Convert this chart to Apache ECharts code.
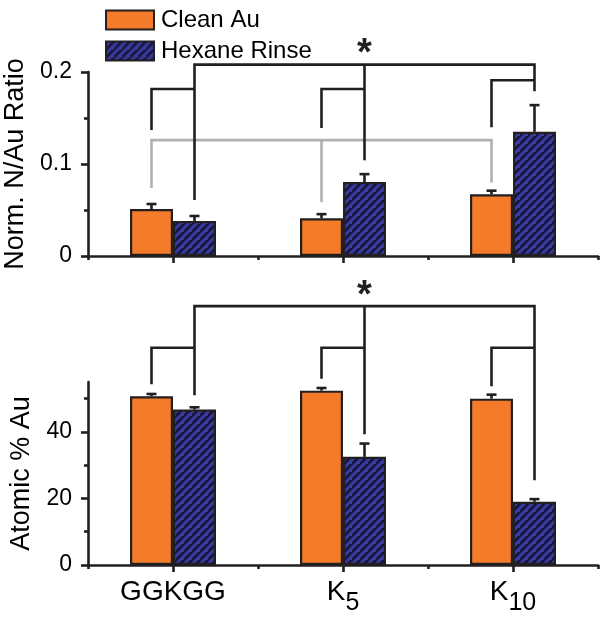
<!DOCTYPE html>
<html>
<head>
<meta charset="utf-8">
<script src="https://cdn.jsdelivr.net/npm/echarts@6/dist/echarts.min.js"></script>
<style>
  html, body { margin: 0; padding: 0; background: #fff; }
  #chart { width: 600px; height: 621px; }
</style>
</head>
<body>
<div id="chart"></div>
<script>
// ---------- data ----------
const categoryBase = ['GGKGG', 'K', 'K'];
const categorySub = ['', '5', '10'];
const categories = ['GGKGG', 'K5', 'K10'];
const seriesNames = ['Clean Au', 'Hexane Rinse'];

const ratioClean = [0.051, 0.041, 0.067];
const ratioCleanErr = [0.0055, 0.0045, 0.004];
const ratioHexane = [0.038, 0.0804, 0.135];
const ratioHexaneErr = [0.0055, 0.0086, 0.029];

const auClean = [50.7, 52.4, 50.0];
const auCleanErr = [0.7, 0.8, 1.2];
const auHexane = [46.7, 32.5, 19.0];
const auHexaneErr = [0.7, 4.0, 0.8];

const ratioTicks = [0, 0.1, 0.2];
const ratioMinorTicks = [0.05, 0.15];
const auTicks = [0, 20, 40];
const auMinorTicks = [10, 30, 50];

// significance brackets: points are [categoryIndex, bar (-1 Clean, +1 Hexane), value]
const ratioBracketsBlack = [
  [[0, 1, 0.061], [0, 1, 0.208], [2, 1, 0.208], [2, 1, 0.179]],
  [[1, 1, 0.104], [1, 1, 0.208]],
  [[0, -1, 0.137], [0, -1, 0.1815], [0, 1, 0.1815]],
  [[1, -1, 0.139], [1, -1, 0.1815], [1, 1, 0.1815]],
  [[2, -1, 0.140], [2, -1, 0.191], [2, 1, 0.191]]
];
const ratioBracketsGray = [
  [[0, -1, 0.0738], [0, -1, 0.126], [2, -1, 0.126], [2, -1, 0.080]],
  [[1, -1, 0.0586], [1, -1, 0.126]]
];
const auBrackets = [
  [[0, 1, 51], [0, 1, 77.8], [2, 1, 77.8], [2, 1, 25.5]],
  [[1, 1, 39.3], [1, 1, 77.8]],
  [[0, -1, 54.3], [0, -1, 65.3], [0, 1, 65.3]],
  [[1, -1, 56], [1, -1, 65.3], [1, 1, 65.3]],
  [[2, -1, 53.7], [2, -1, 65.3], [2, 1, 65.3]]
];
const ratioStar = [1, 1, 0.226];
const auStar = [1, 1, 82.5];

// ---------- styles ----------
const FONT = "'Liberation Sans', Arial, Helvetica, sans-serif";
const INK = '#231f20';
const ORANGE = '#f47b2a';
const BAR_W = 43;

function hatchPattern() {
  const s = 8;
  const c = document.createElement('canvas');
  c.width = s; c.height = s;
  const ctx = c.getContext('2d');
  ctx.fillStyle = '#3a3a9e';
  ctx.fillRect(0, 0, s, s);
  ctx.strokeStyle = '#16163a';
  ctx.lineWidth = 2.6;
  ctx.beginPath();
  ctx.moveTo(-2, s + 2); ctx.lineTo(s + 2, -2);
  ctx.moveTo(-2 - s, s + 2); ctx.lineTo(2, -2);
  ctx.moveTo(s - 2, 2 * s + 2); ctx.lineTo(2 * s + 2, s - 2);
  ctx.stroke();
  return { image: c, repeat: 'repeat' };
}
const HATCH = hatchPattern();

function px(api, p) {
  const c = api.coord([p[0], p[2]]);
  return [c[0] + p[1] * BAR_W / 2, c[1]];
}

function bracketSeries(xi, yi, lines, color) {
  return {
    type: 'custom', xAxisIndex: xi, yAxisIndex: yi, clip: false, z: 5,
    silent: true,
    data: lines.map(l => [l[0][0], l[0][2]]),
    renderItem: function (params, api) {
      const l = lines[params.dataIndex];
      return {
        type: 'polyline',
        shape: { points: l.map(p => px(api, p)) },
        style: { stroke: color, lineWidth: 2.6, fill: null, lineJoin: 'miter' }
      };
    }
  };
}

function errorSeries(xi, yi, vals, errs, side) {
  return {
    type: 'custom', xAxisIndex: xi, yAxisIndex: yi, clip: false, z: 6,
    silent: true,
    data: vals.map((v, i) => [i, v, errs[i]]),
    renderItem: function (params, api) {
      const i = api.value(0), v = api.value(1), e = api.value(2);
      const b = px(api, [i, side, v]);
      const t = px(api, [i, side, v + e]);
      return {
        type: 'group',
        children: [
          { type: 'line', shape: { x1: b[0], y1: b[1], x2: t[0], y2: t[1] },
            style: { stroke: INK, lineWidth: 2.6 } },
          { type: 'line', shape: { x1: t[0] - 5, y1: t[1], x2: t[0] + 5, y2: t[1] },
            style: { stroke: INK, lineWidth: 2.6 } }
        ]
      };
    }
  };
}

function starSeries(xi, yi, star) {
  return {
    type: 'custom', xAxisIndex: xi, yAxisIndex: yi, clip: false, z: 7,
    silent: true,
    data: [[star[0], star[2]]],
    renderItem: function (params, api) {
      const p = px(api, star);
      return {
        type: 'text',
        style: { text: '*', x: p[0], y: p[1] + 6, align: 'center', verticalAlign: 'middle',
                 fontSize: 38, fontWeight: 'bold', fontFamily: FONT, fill: INK }
      };
    }
  };
}

const lineStyle = { color: INK, width: 2.6 };

function catAxes(gi, showLabels) {
  return [
    {
      type: 'category', gridIndex: gi, data: categories, position: 'bottom',
      axisLine: { show: true, lineStyle: lineStyle },
      axisTick: { show: true, alignWithLabel: true, length: 7, lineStyle: lineStyle },
      axisLabel: showLabels ? {
        show: true, margin: 13, color: '#000', fontFamily: FONT, interval: 0,
        verticalAlign: 'top',
        formatter: function (v, idx) {
          return '{k|' + categoryBase[idx] + '}' + (categorySub[idx] ? '{s|' + categorySub[idx] + '}' : '');
        },
        rich: {
          k: { fontSize: 28, fontFamily: FONT, color: '#000', lineHeight: 28, verticalAlign: 'top' },
          s: { fontSize: 25, fontFamily: FONT, color: '#000', lineHeight: 38, verticalAlign: 'bottom' }
        }
      } : { show: false },
      splitLine: { show: false }
    },
    {
      type: 'category', gridIndex: gi, data: categories, position: 'bottom',
      axisLine: { show: false },
      axisTick: { show: true, alignWithLabel: false, length: 4, lineStyle: lineStyle },
      axisLabel: { show: false },
      splitLine: { show: false }
    }
  ];
}

function valAxes(gi, max, ticks, minor, name, gap) {
  return [
    {
      type: 'value', gridIndex: gi, min: 0, max: max, position: 'left',
      axisLine: { show: true, lineStyle: lineStyle },
      axisTick: { show: true, length: 7, lineStyle: lineStyle, customValues: ticks },
      axisLabel: { show: true, customValues: ticks, fontSize: 23, color: '#000', fontFamily: FONT, margin: 16 },
      splitLine: { show: false },
      name: name, nameLocation: 'middle', nameGap: gap,
      nameTextStyle: { fontSize: 27, color: '#000', fontFamily: FONT }
    },
    {
      type: 'value', gridIndex: gi, min: 0, max: max, position: 'left', offset: 0,
      axisLine: { show: false },
      axisTick: { show: true, length: 4, lineStyle: lineStyle, customValues: minor },
      axisLabel: { show: false },
      splitLine: { show: false }
    }
  ];
}

function barSeries(name, xi, yi, vals, color) {
  return {
    name: name, type: 'bar', xAxisIndex: xi, yAxisIndex: yi, data: vals,
    barWidth: BAR_W, barGap: '0%', z: 3,
    itemStyle: { color: color, borderColor: INK, borderWidth: 2.2 },
    emphasis: { disabled: true }
  };
}

const chart = echarts.init(document.getElementById('chart'), null, { renderer: 'canvas' });
chart.setOption({
  animation: false,
  backgroundColor: '#fff',
  textStyle: { fontFamily: FONT },
  legend: {
    data: seriesNames, orient: 'vertical', left: 100, top: 3,
    itemWidth: 48, itemHeight: 19, itemGap: 7, icon: 'rect',
    textStyle: { fontSize: 24, color: '#000', fontFamily: FONT, lineHeight: 19, padding: [0, 0, 0, 2] },
    selectedMode: false
  },
  grid: [
    { left: 88, right: 2, top: 72, height: 184, outerBoundsMode: 'none', containLabel: false },
    { left: 88, right: 2, top: 382, height: 183, outerBoundsMode: 'none', containLabel: false }
  ],
  xAxis: [].concat(catAxes(0, false), catAxes(1, true)),
  yAxis: [].concat(
    valAxes(0, 0.2, ratioTicks, ratioMinorTicks, 'Norm. N/Au Ratio', 58),
    valAxes(1, 55, auTicks, auMinorTicks, 'Atomic % Au', 45)
  ),
  series: [
    barSeries(seriesNames[0], 0, 0, ratioClean, ORANGE),
    barSeries(seriesNames[1], 0, 0, ratioHexane, HATCH),
    barSeries(seriesNames[0], 2, 2, auClean, ORANGE),
    barSeries(seriesNames[1], 2, 2, auHexane, HATCH),
    errorSeries(0, 0, ratioClean, ratioCleanErr, -1),
    errorSeries(0, 0, ratioHexane, ratioHexaneErr, 1),
    errorSeries(2, 2, auClean, auCleanErr, -1),
    errorSeries(2, 2, auHexane, auHexaneErr, 1),
    bracketSeries(0, 0, ratioBracketsGray, '#b0b0b0'),
    bracketSeries(0, 0, ratioBracketsBlack, INK),
    bracketSeries(2, 2, auBrackets, INK),
    starSeries(0, 0, ratioStar),
    starSeries(2, 2, auStar)
  ]
});
</script>
</body>
</html>
